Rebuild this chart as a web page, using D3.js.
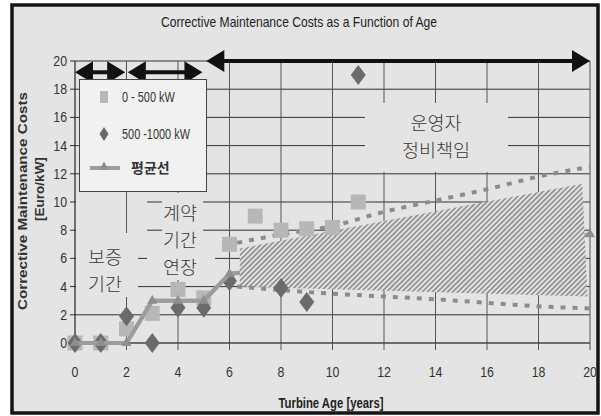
<!DOCTYPE html>
<html>
<head>
<meta charset="utf-8">
<script src="https://cdn.jsdelivr.net/npm/d3@7"></script>
<style>
  body { margin: 0; background: #fff; }
  svg { display: block; }
</style>
</head>
<body>
<svg id="chart"></svg>
<script>
// data
const xTicks = [0, 2, 4, 6, 8, 10, 12, 14, 16, 18, 20];
const yTicks = [0, 2, 4, 6, 8, 10, 12, 14, 16, 18, 20];

const smallAge = [0, 1, 2, 3, 4, 5, 6, 7, 8, 9, 10, 11];
const smallCost = [0, 0, 1.0, 2.1, 3.8, 3.2, 7.0, 9.0, 8.0, 8.1, 8.2, 10.0];

const bigAge = [0, 1, 2, 3, 4, 5, 6, 8, 9, 11];
const bigCost = [0, 0, 1.9, 0, 2.5, 2.5, 4.4, 3.9, 2.9, 19];

const avgAge = [0, 1, 2, 3, 4, 5, 6, 20];
const avgCost = [0, 0, 0, 3, 3, 3, 4.9, 7.7];

const upperAge = [6.3, 8, 10, 12, 14, 16, 18, 20];
const upperCost = [7.1, 7.7, 8.3, 9.3, 10.1, 10.9, 11.8, 12.5];
const lowerAge = [6.3, 8, 10, 12, 14, 16, 18, 20];
const lowerCost = [4.0, 3.75, 3.5, 3.3, 3.1, 2.85, 2.6, 2.45];

const bandAge = [6.4, 19.7, 19.9, 6.4];
const bandCost = [6.7, 11.3, 3.3, 4.0];

// phase arrows: [from age, to age, level]
const phases = [[0, 1.95, 19.2], [2.05, 4.95, 19.2], [5.1, 20, 20]];

const legendLabels = ['0 - 500 kW', '500 -1000 kW', '평균선'];

const config = { width: 601, height: 416, left: 75, right: 590, top: 61, bottom: 343 };
const bg = '#e4e4e4';
const sans = "'Liberation Sans',Arial,sans-serif";
const kr = "'Noto Sans CJK KR','Noto Sans',sans-serif";

let svg = d3.select('#chart')
    .attr('width', config.width)
    .attr('height', config.height);

// squeezed text, stands in for Arial Narrow
const narrowText = (parent, tx, ty, txt, size, anchor, sx = 0.8) => parent.append('text')
    .attr('transform', `translate(${tx},${ty}) scale(${sx},1)`)
    .attr('text-anchor', anchor)
    .style('font-family', sans).style('font-size', size + 'px').style('fill', '#333')
    .text(txt);

// hatch pattern for the band
let defs = svg.append('defs');
let pat = defs.append('pattern')
    .attr('id', 'hatch')
    .attr('patternUnits', 'userSpaceOnUse')
    .attr('width', 3.6).attr('height', 3.6)
    .attr('patternTransform', 'rotate(45)');
pat.append('rect').attr('width', 3.6).attr('height', 3.6).attr('fill', bg);
pat.append('line').attr('x1', 1).attr('y1', 0).attr('x2', 1).attr('y2', 3.6)
    .attr('stroke', '#858585').attr('stroke-width', 1.5);

// outer frame
svg.append('rect')
    .attr('x', 12).attr('y', 5).attr('width', 586).attr('height', 408)
    .attr('fill', bg).attr('stroke', '#151515').attr('stroke-width', 3.5);

// scales
let x = d3.scaleLinear().domain([0, 20]).range([config.left, config.right]);
let y = d3.scaleLinear().domain([0, 20]).range([config.bottom, config.top]);

// horizontal grid
svg.append('g').selectAll('line')
    .data(yTicks.filter(d => d > 0))
    .join('line')
    .attr('x1', config.left - 5).attr('x2', config.right)
    .attr('y1', d => y(d)).attr('y2', d => y(d))
    .attr('stroke', '#333').attr('stroke-width', 1);

const hMasks = [[76, 196, 147, 240], [162, 196, 203, 240], [76, 250, 138, 296], [147, 250, 215, 270], [365, 105, 508, 170]];
const vMasks = [[120, 233, 135, 297], [172, 193, 186, 280], [370, 103, 500, 172]];
const drawMasks = m => svg.append('g').selectAll('rect').data(m).join('rect')
    .attr('x', d => d[0]).attr('y', d => d[1])
    .attr('width', d => d[2] - d[0]).attr('height', d => d[3] - d[1])
    .attr('fill', bg);
drawMasks(hMasks);

// vertical grid
svg.append('g').selectAll('line')
    .data(xTicks.filter(d => d > 0))
    .join('line')
    .attr('x1', d => x(d)).attr('x2', d => x(d))
    .attr('y1', config.top).attr('y2', config.bottom + 7)
    .attr('stroke', '#555').attr('stroke-width', 1);
drawMasks(vMasks);

// axes lines
svg.append('line')
    .attr('x1', x(0)).attr('x2', x(0)).attr('y1', y(20)).attr('y2', y(0))
    .attr('stroke', '#222').attr('stroke-width', 1.2);
svg.append('line')
    .attr('x1', config.left - 5).attr('x2', config.right).attr('y1', y(0)).attr('y2', y(0))
    .attr('stroke', '#444').attr('stroke-width', 1.5);

// tick labels
let yl = svg.append('g');
yTicks.forEach(d => narrowText(yl, 67, y(d) + 5, d, 14.5, 'end', 0.85));
let xl = svg.append('g');
xTicks.forEach(d => narrowText(xl, x(d), 377, d, 14.5, 'middle', 0.85));

// titles
svg.append('text')
    .attr('x', 299).attr('y', 27).attr('text-anchor', 'middle')
    .attr('textLength', 276).attr('lengthAdjust', 'spacingAndGlyphs')
    .style('font-family', sans).style('font-size', '14.5px').style('fill', '#1e1e1e')
    .text('Corrective Maintenance Costs as a Function of Age');
svg.append('text')
    .attr('x', 331).attr('y', 408).attr('text-anchor', 'middle')
    .attr('textLength', 105).attr('lengthAdjust', 'spacingAndGlyphs')
    .style('font-family', sans).style('font-size', '14px').style('font-weight', 'bold').style('fill', '#222')
    .text('Turbine Age [years]');
svg.append('text')
    .attr('transform', 'translate(27,201) rotate(-90)').attr('text-anchor', 'middle')
    .attr('textLength', 218).attr('lengthAdjust', 'spacingAndGlyphs')
    .style('font-family', sans).style('font-size', '13.5px')
    .style('font-weight', 'bold').style('fill', '#333')
    .text('Corrective Maintenance Costs');
svg.append('text')
    .attr('transform', 'translate(44,189) rotate(-90)').attr('text-anchor', 'middle')
    .style('font-family', sans).style('font-size', '13.5px')
    .style('font-weight', 'bold').style('fill', '#333')
    .text('[Euro/kW]');

// phase labels
const phaseText = [
    { lines: ['보증', '기간'], cx: 105, cy: 257 },
    { lines: ['계약', '기간', '연장'], cx: 180, cy: 213 },
    { lines: ['운영자', '정비책임'], cx: 436, cy: 123 }
];
phaseText.forEach(p => {
    p.lines.forEach((t, i) => {
        svg.append('text')
            .attr('x', p.cx).attr('y', p.cy + i * 27 + 7)
            .attr('text-anchor', 'middle')
            .style('font-family', kr).style('font-size', '18.5px').style('font-weight', 300)
            .style('fill', '#3a3a3a')
            .text(t);
    });
});

// band
let bandPts = bandAge.map((a, i) => [x(a), y(bandCost[i])]);

// average line (runs under the band)
let avgPts = avgAge.map((a, i) => [x(a), y(avgCost[i])]);
svg.append('path')
    .attr('d', d3.line()(avgPts))
    .attr('fill', 'none').attr('stroke', '#9c9c9c').attr('stroke-width', 4);

svg.append('path')
    .attr('d', 'M' + bandPts.join('L') + 'Z')
    .attr('fill', 'url(#hatch)');

// dotted bounds
const bound = d3.line().x(d => x(d[0])).y(d => y(d[1])).curve(d3.curveMonotoneX);
[[upperAge, upperCost], [lowerAge, lowerCost]].forEach(s => {
    svg.append('path')
        .attr('d', bound(s[0].map((a, i) => [a, s[1][i]])))
        .attr('fill', 'none').attr('stroke', '#8c8c8c').attr('stroke-width', 4)
        .attr('stroke-dasharray', '5,7');
});

// 0-500 kW squares
svg.append('g').selectAll('rect')
    .data(smallAge.map((a, i) => [a, smallCost[i]]))
    .join('rect')
    .attr('x', d => x(d[0]) - 7.5).attr('y', d => y(d[1]) - 7.5)
    .attr('width', 15).attr('height', 15)
    .attr('fill', '#b7b7b7');

// 500-1000 kW diamonds
const diamond = (w, h) => `M0,${-h / 2}L${w / 2},0L0,${h / 2}L${-w / 2},0Z`;
svg.append('g').selectAll('path')
    .data(bigAge.map((a, i) => [a, bigCost[i]]))
    .join('path')
    .attr('transform', d => `translate(${x(d[0])},${y(d[1])})`)
    .attr('d', diamond(15, 20))
    .attr('fill', '#6b6b6b');

// visible part of the average line on top, with triangles
svg.append('path')
    .attr('d', d3.line()(avgPts.slice(0, 7).concat([[x(6.4), y(5.0)]])))
    .attr('fill', 'none').attr('stroke', '#9c9c9c').attr('stroke-width', 4);
svg.append('g').selectAll('path')
    .data(avgPts)
    .join('path')
    .attr('transform', d => `translate(${d[0]},${d[1]})`)
    .attr('d', d3.symbol(d3.symbolTriangle, 45)())
    .attr('fill', '#8e8e8e');

// phase arrows
const arrow = (x0, x1, yy) => {
    let g = svg.append('g');
    g.append('line')
        .attr('x1', x0 + 12).attr('x2', x1 - 12).attr('y1', yy).attr('y2', yy)
        .attr('stroke', '#111').attr('stroke-width', 4);
    g.append('path').attr('d', `M${x0},${yy}L${x0 + 18},${yy - 11}L${x0 + 18},${yy + 11}Z`).attr('fill', '#111');
    g.append('path').attr('d', `M${x1},${yy}L${x1 - 18},${yy - 11}L${x1 - 18},${yy + 11}Z`).attr('fill', '#111');
};
phases.forEach(p => arrow(x(p[0]), x(p[1]), y(p[2])));

// legend
let lg = svg.append('g');
lg.append('rect')
    .attr('x', 79.5).attr('y', 79.5).attr('width', 127).attr('height', 112)
    .attr('fill', '#f1f1f1').attr('stroke', '#444').attr('stroke-width', 1);
lg.append('rect').attr('x', 100).attr('y', 91).attr('width', 8).attr('height', 12).attr('fill', '#b7b7b7');
lg.append('path').attr('transform', 'translate(104,134)').attr('d', diamond(9, 14)).attr('fill', '#6b6b6b');
lg.append('line').attr('x1', 90).attr('x2', 120).attr('y1', 168).attr('y2', 168)
    .attr('stroke', '#9c9c9c').attr('stroke-width', 4);
lg.append('path').attr('transform', 'translate(104,167)').attr('d', d3.symbol(d3.symbolTriangle, 40)()).attr('fill', '#8e8e8e');
narrowText(lg, 122, 102, legendLabels[0], 14, 'start', 0.78);
narrowText(lg, 122, 139, legendLabels[1], 14, 'start', 0.78);
lg.append('text')
    .attr('x', 131).attr('y', 173)
    .style('font-family', kr).style('font-size', '14px').style('font-weight', 'bold').style('fill', '#333')
    .text(legendLabels[2]);
</script>
</body>
</html>
